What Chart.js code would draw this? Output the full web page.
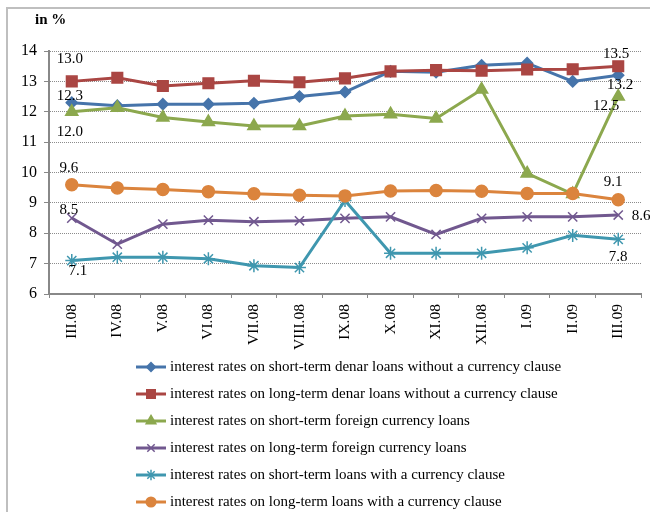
<!DOCTYPE html>
<html>
<head>
<meta charset="utf-8">
<script src="https://cdn.jsdelivr.net/npm/chart.js@4"></script>
<style>
  html, body { margin: 0; padding: 0; background: #fff; }
  #wrap { width: 650px; height: 512px; position: relative; }
</style>
</head>
<body>
<div id="wrap"><canvas id="c" width="650" height="512"></canvas></div>
<script>
// Monthly periods
const months = ['III.08','IV.08','V.08','VI.08','VII.08','VIII.08','IX.08','X.08','XI.08','XII.08','I.09','II.09','III.09'];

// Interest rates, in %
const shortDenar   = [12.3, 12.2, 12.25, 12.25, 12.28, 12.5, 12.65, 13.33, 13.3, 13.53, 13.6, 13.0, 13.2];
const longDenar    = [13.0, 13.12, 12.85, 12.94, 13.02, 12.97, 13.1, 13.33, 13.37, 13.35, 13.39, 13.4, 13.5];
const shortForeign = [12.0, 12.13, 11.81, 11.66, 11.53, 11.53, 11.86, 11.92, 11.78, 12.73, 9.97, 9.29, 12.5];
const longForeign  = [8.5, 7.64, 8.30, 8.43, 8.38, 8.41, 8.49, 8.54, 7.96, 8.49, 8.54, 8.54, 8.6];
const shortClause  = [7.1, 7.21, 7.21, 7.16, 6.93, 6.87, 9.08, 7.34, 7.34, 7.34, 7.52, 7.93, 7.8];
const longClause   = [9.6, 9.49, 9.44, 9.37, 9.30, 9.25, 9.23, 9.39, 9.41, 9.38, 9.31, 9.31, 9.1];

const seriesNames = [
  'interest rates on short-term denar loans without a currency clause',
  'interest rates on long-term denar loans without a currency clause',
  'interest rates on short-term foreign currency loans',
  'interest rates on long-term foreign currency loans',
  'interest rates on short-term loans with a currency clause',
  'interest rates on long-term loans with a currency clause'
];

const yTicks = [6, 7, 8, 9, 10, 11, 12, 13, 14];

const SERIF = "'Liberation Serif', 'Times New Roman', serif";

const styles = [
  { color: '#4674AA', pointStyle: 'rectRot',  radius: 5.5 },
  { color: '#AA4643', pointStyle: 'rect',     radius: 7.5 },
  { color: '#8CA84E', pointStyle: 'triangle', radius: 7 },
  { color: '#71588F', pointStyle: 'crossRot', radius: 6.5 },
  { color: '#3F97AF', pointStyle: 'star',     radius: 6.5 },
  { color: '#DB843D', pointStyle: 'circle',   radius: 6 }
];

const values = [shortDenar, longDenar, shortForeign, longForeign, shortClause, longClause];

const datasets = values.map((v, i) => ({
  label: seriesNames[i],
  data: v,
  borderColor: styles[i].color,
  backgroundColor: styles[i].color,
  pointBackgroundColor: styles[i].color,
  pointBorderColor: styles[i].color,
  pointStyle: styles[i].pointStyle,
  pointRadius: styles[i].radius,
  pointBorderWidth: 1.5,
  borderWidth: 3,
  tension: 0,
  order: values.length - i
}));

// value label offsets (dx, dy) for the first and last point of each series
const labelPlacement = [
  { first: [-2, -7],  last: [2, 10] },
  { first: [-2, -22], last: [-2, -12] },
  { first: [-2, 20],  last: [-12, 9] },
  { first: [-3, -8],  last: [23, 1] },
  { first: [6, 10],   last: [0, 18] },
  { first: [-3, -17], last: [-5, -18] }
];

const valueLabels = {
  id: 'valueLabels',
  afterDatasetsDraw(chart) {
    const ctx = chart.ctx;
    ctx.save();
    ctx.font = '15px ' + SERIF;
    ctx.fillStyle = '#000';
    ctx.textAlign = 'center';
    ctx.textBaseline = 'middle';
    chart.data.datasets.forEach((ds, i) => {
      const meta = chart.getDatasetMeta(i);
      const n = ds.data.length;
      [[0, labelPlacement[i].first], [n - 1, labelPlacement[i].last]].forEach(([idx, off]) => {
        const pt = meta.data[idx];
        ctx.fillText(ds.data[idx].toFixed(1), pt.x + off[0], pt.y + off[1]);
      });
    });
    ctx.restore();
  }
};

const frame = {
  id: 'frame',
  beforeDraw(chart) {
    const ctx = chart.ctx;
    ctx.save();
    ctx.fillStyle = '#fff';
    ctx.fillRect(0, 0, chart.width, chart.height);
    ctx.strokeStyle = '#BFBFBF';
    ctx.lineWidth = 2;
    ctx.beginPath();
    ctx.moveTo(7, chart.height);
    ctx.lineTo(7, 8);
    ctx.lineTo(chart.width, 8);
    ctx.stroke();
    ctx.restore();
  },
  afterDraw(chart) {
    const ctx = chart.ctx;
    ctx.save();
    // unit caption
    ctx.font = 'bold 15px ' + SERIF;
    ctx.fillStyle = '#000';
    ctx.textAlign = 'left';
    ctx.textBaseline = 'middle';
    ctx.fillText('in %', 35, 20);
    // legend
    const x0 = 136, x1 = 166, top = 367, step = 27;
    ctx.font = '15px ' + SERIF;
    chart.data.datasets.forEach((ds, i) => {
      const y = top + i * step;
      ctx.strokeStyle = ds.borderColor;
      ctx.lineWidth = 3;
      ctx.beginPath();
      ctx.moveTo(x0, y);
      ctx.lineTo(x1, y);
      ctx.stroke();
      ctx.fillStyle = ds.backgroundColor;
      ctx.strokeStyle = ds.borderColor;
      ctx.lineWidth = ds.pointBorderWidth;
      Chart.helpers.drawPoint(ctx, {
        pointStyle: ds.pointStyle,
        radius: ds.pointRadius * 0.8,
        borderWidth: ds.pointBorderWidth,
        rotation: 0
      }, (x0 + x1) / 2, y);
      ctx.fillStyle = '#000';
      ctx.fillText(ds.label, 170, y);
    });
    ctx.restore();
  }
};

new Chart(document.getElementById('c'), {
  type: 'line',
  data: { labels: months, datasets },
  options: {
    responsive: false,
    animation: false,
    devicePixelRatio: 1,
    layout: { padding: { top: 51, right: 9, bottom: 158, left: 0 } },
    plugins: {
      legend: { display: false },
      tooltip: { enabled: false }
    },
    scales: {
      x: {
        offset: true,
        grid: {
          display: true,
          offset: true,
          drawOnChartArea: false,
          drawTicks: true,
          tickLength: 4,
          tickColor: '#888',
          tickWidth: 1
        },
        border: { display: true, color: '#888', width: 2 },
        ticks: {
          minRotation: 90,
          maxRotation: 90,
          autoSkip: false,
          padding: 6,
          color: '#000',
          font: { family: SERIF, size: 15.5 }
        },
        afterFit(scale) {
          scale.height = 60;
          scale.paddingLeft = 0;
          scale.paddingRight = 0;
        }
      },
      y: {
        min: 6,
        max: 14,
        afterBuildTicks(scale) {
          scale.ticks = yTicks.map(v => ({ value: v }));
        },
        grid: {
          color: '#8C8C8C',
          lineWidth: 1,
          drawTicks: true,
          tickLength: 5,
          tickColor: '#888',
          tickBorderDash: []
        },
        border: { display: true, color: '#888', width: 2, dash: [1, 1] },
        ticks: {
          padding: 7,
          color: '#000',
          font: { family: SERIF, size: 16 }
        },
        afterFit(scale) {
          scale.width = 49;
          scale.paddingTop = 0;
          scale.paddingBottom = 0;
        }
      }
    }
  },
  plugins: [frame, valueLabels]
});
</script>
</body>
</html>
